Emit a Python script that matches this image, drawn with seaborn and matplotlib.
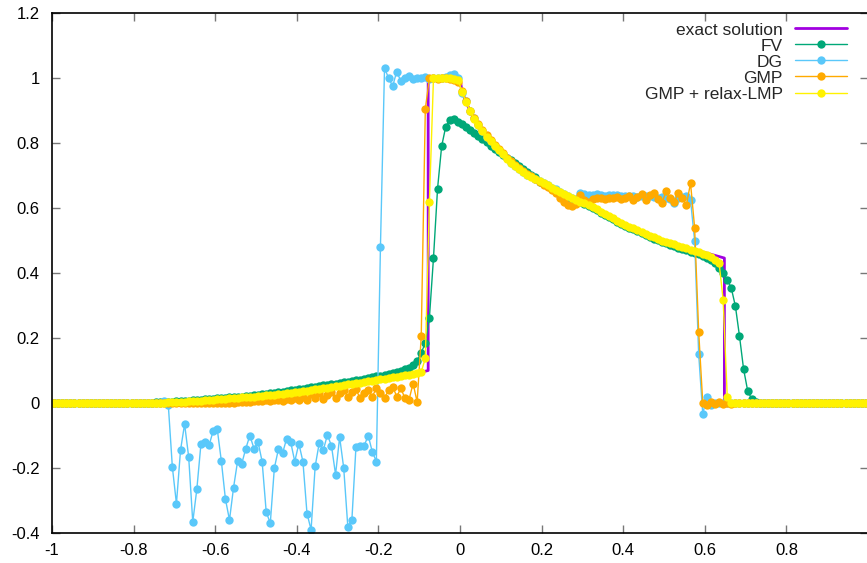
import numpy as np
import seaborn as sns
import matplotlib.pyplot as plt
from matplotlib.ticker import FormatStrFormatter

# cell centres of the 200-cell mesh on [-1, 1]
x = np.round(np.linspace(-0.995, 0.995, 200), 3)

# exact solution (piecewise)
exact_x = [-1.0, -0.75, -0.7, -0.6, -0.5, -0.4, -0.3, -0.2, -0.1, -0.078, -0.078,
           0.0, 0.005, 0.015, 0.025, 0.035, 0.05, 0.075, 0.1, 0.15, 0.2, 0.25,
           0.3, 0.35, 0.4, 0.45, 0.5, 0.55, 0.58, 0.648, 0.648, 1.0]
exact_y = [0.0, 0.0, 0.002, 0.01, 0.02, 0.035, 0.052, 0.072, 0.093, 0.1, 1.0,
           1.0, 0.957, 0.926, 0.897, 0.874, 0.846, 0.805, 0.771, 0.713, 0.68, 0.646,
           0.617, 0.585, 0.551, 0.523, 0.498, 0.48, 0.47, 0.446, 0.0, 0.0]

fv = [0.0] * 22 + [
    0.000, 0.001, 0.001, 0.002, 0.002, 0.003, 0.003, 0.004, 0.005, 0.006,
    0.006, 0.007, 0.008, 0.009, 0.010, 0.011, 0.012, 0.013, 0.014, 0.015,
    0.016, 0.017, 0.018, 0.019, 0.020, 0.021, 0.022, 0.024, 0.026, 0.027,
    0.029, 0.030, 0.032, 0.033, 0.035, 0.037, 0.039, 0.041, 0.042, 0.044,
    0.046, 0.048, 0.050, 0.052, 0.054, 0.056, 0.058, 0.060, 0.062, 0.064,
    0.066, 0.068, 0.070, 0.072, 0.074, 0.077, 0.079, 0.082, 0.084, 0.087,
    0.090, 0.093, 0.096, 0.100, 0.104, 0.109, 0.117, 0.130, 0.155, 0.184,
    0.262, 0.446, 0.660, 0.790, 0.850, 0.872, 0.874, 0.866, 0.857, 0.848,
    0.840, 0.831, 0.822, 0.812, 0.802, 0.792, 0.782, 0.772, 0.763, 0.755,
    0.747, 0.738, 0.729, 0.720, 0.712, 0.703, 0.695,
] + [
    0.680, 0.674, 0.667, 0.660, 0.653, 0.646, 0.640, 0.634, 0.628, 0.622,
    0.617, 0.612, 0.606, 0.599, 0.593, 0.586, 0.579, 0.572, 0.565, 0.558,
    0.551, 0.545, 0.539, 0.534, 0.528, 0.522, 0.516, 0.511, 0.506, 0.501,
    0.496, 0.491, 0.487, 0.483, 0.478, 0.474, 0.470, 0.466, 0.462, 0.458,
    0.453, 0.447, 0.440, 0.430, 0.416,
] + [0.401, 0.380, 0.353, 0.298, 0.206, 0.105, 0.038, 0.012, 0.004] + [0.0] * 27

dg = [0.0] * 27 + [
    0.005, -0.005, -0.197, -0.310, -0.145, -0.065, -0.166, -0.366, -0.265, -0.127,
    -0.120, -0.130, -0.086, -0.080, -0.178, -0.295, -0.360, -0.260, -0.178, -0.187,
    -0.140, -0.100, -0.140, -0.120, -0.180, -0.335, -0.370, -0.200, -0.142, -0.155,
    -0.110, -0.120, -0.180, -0.125, -0.180, -0.340, -0.390, -0.195, -0.123, -0.145,
    -0.098, -0.132, -0.220, -0.105, -0.200, -0.380, -0.360, -0.135, -0.132, -0.132,
    -0.100, -0.150, -0.180,
] + [
    0.480, 1.030, 1.000, 0.975, 1.020, 0.990, 1.000, 1.005, 0.998, 1.000,
    1.000, 1.002, 0.998, 1.000, 1.000, 1.000, 1.003, 1.008, 1.012, 1.000,
] + [
    0.955, 0.928, 0.897, 0.876, 0.855, 0.837, 0.820, 0.806, 0.791, 0.779,
    0.765, 0.753, 0.740, 0.730, 0.719, 0.711, 0.703, 0.697, 0.689, 0.684,
    0.677, 0.671, 0.663, 0.657, 0.649, 0.644, 0.637, 0.632, 0.628,
] + [
    0.646, 0.642, 0.641, 0.640, 0.642, 0.640, 0.637, 0.639, 0.641, 0.640,
    0.638, 0.637, 0.638, 0.636, 0.634, 0.636, 0.637, 0.636, 0.634, 0.632,
    0.633, 0.630, 0.628, 0.615, 0.630, 0.634, 0.636, 0.625,
] + [0.500, 0.150, -0.034, 0.020, -0.005] + [0.0] * 38

gmp = [0.0] * 45 + [
    0.002, 0.003, 0.004, 0.003, 0.005, 0.006, 0.005, 0.008, 0.007, 0.010,
] + [
    0.010, 0.005, 0.012, 0.008, 0.015, 0.010, 0.020, 0.010, 0.028, 0.015,
    0.030, 0.012, 0.025, 0.035, 0.015, 0.030, 0.040, 0.020, 0.035, 0.042,
    0.015, 0.030, 0.040, 0.020, 0.045, 0.030, 0.015, 0.040, 0.050, 0.020,
    0.045, 0.015, 0.010, 0.060, 0.003, 0.206, 0.905,
] + [1.000, 1.000, 0.998, 1.000, 1.000, 0.997, 0.993, 0.988] + [
    0.960, 0.930, 0.900, 0.878, 0.858, 0.840, 0.824, 0.808, 0.795, 0.781,
    0.768, 0.755, 0.744, 0.733, 0.722, 0.713, 0.705, 0.697, 0.688, 0.680,
    0.672, 0.664, 0.655, 0.645, 0.630, 0.618, 0.610, 0.605, 0.612,
] + [
    0.640, 0.625, 0.620, 0.628, 0.630, 0.632, 0.628, 0.630, 0.632, 0.634,
    0.628, 0.630, 0.637, 0.625, 0.635, 0.643, 0.625, 0.640, 0.646, 0.628,
    0.615, 0.652, 0.630, 0.618, 0.646, 0.630, 0.609, 0.677, 0.540, 0.220,
] + [
    0.000, -0.005, 0.003, -0.004, 0.002, -0.003, 0.001, -0.002, 0.001, 0.000,
    0.001, 0.000,
] + [0.0] * 29

gmp_lmp = [0.0] * 25 + [
    0.000, 0.001, 0.001, 0.002, 0.002, 0.003, 0.003, 0.004, 0.005, 0.005,
    0.006, 0.007, 0.008, 0.009, 0.010, 0.011, 0.012, 0.013, 0.014, 0.015,
    0.016, 0.017, 0.018, 0.019, 0.020, 0.021, 0.022, 0.024, 0.025, 0.026,
    0.028, 0.029, 0.031, 0.032, 0.034, 0.035, 0.037, 0.038, 0.040, 0.042,
    0.043, 0.045, 0.047, 0.049, 0.051, 0.053, 0.055, 0.057, 0.059, 0.061,
    0.063, 0.065, 0.067, 0.069, 0.071, 0.073, 0.075, 0.077, 0.079, 0.081,
    0.083, 0.085, 0.087, 0.090, 0.092, 0.096, 0.137,
] + [0.620, 1.000, 1.000, 1.000, 1.000, 1.000, 0.998, 0.995] + [
    0.957, 0.926, 0.897, 0.874, 0.855, 0.836, 0.820, 0.805, 0.791, 0.778,
    0.765, 0.752, 0.740, 0.729, 0.719, 0.710, 0.703, 0.696, 0.689, 0.683,
    0.677, 0.670, 0.663, 0.656, 0.649, 0.643, 0.637, 0.631, 0.625, 0.620,
    0.615, 0.609, 0.602, 0.596, 0.589, 0.582, 0.575, 0.568, 0.561, 0.554,
    0.548, 0.542, 0.537, 0.531, 0.526, 0.520, 0.515, 0.510, 0.505, 0.500,
    0.496, 0.492, 0.488, 0.484, 0.480, 0.476, 0.472, 0.468, 0.464, 0.460,
    0.455, 0.448, 0.440, 0.432,
] + [0.317, 0.020] + [0.0] * 34

x_ticks = [-1, -0.8, -0.6, -0.4, -0.2, 0, 0.2, 0.4, 0.6, 0.8]
y_ticks = [-0.4, -0.2, 0, 0.2, 0.4, 0.6, 0.8, 1, 1.2]

sns.set_theme(style="ticks")
plt.rcParams['font.family'] = ['Liberation Sans', 'DejaVu Sans']

fig = plt.figure(figsize=(8.67, 5.63), dpi=100)
ax = fig.add_axes([52 / 867, 30 / 563, 816 / 867, 520 / 563])

mk = dict(marker='o', markersize=6, markeredgewidth=0, linewidth=1.0,
          estimator=None, sort=False, ax=ax)

sns.lineplot(x=exact_x, y=exact_y, color='#a100e0', linewidth=2.0,
             estimator=None, sort=False, ax=ax, label='exact solution')
sns.lineplot(x=x, y=fv, color='#00a878', label='FV', **mk)
sns.lineplot(x=x, y=dg, color='#5ac8fa', label='DG', **mk)
sns.lineplot(x=x, y=gmp, color='#ffaa00', label='GMP', **mk)
sns.lineplot(x=x, y=gmp_lmp, color='#fff200', label='GMP + relax-LMP', **mk)

ax.set_xlim(-1, 1)
ax.set_ylim(-0.4, 1.2)
ax.set_xticks(x_ticks)
ax.set_yticks(y_ticks)
ax.xaxis.set_major_formatter(FormatStrFormatter('%g'))
ax.yaxis.set_major_formatter(FormatStrFormatter('%g'))
ax.tick_params(direction='in', length=6, width=1, color='#777777',
               top=True, right=True, labelsize=12, labelcolor='black')
ax.tick_params(axis='y', pad=9)
ax.tick_params(axis='x', pad=7)
for s in ax.spines.values():
    s.set_color('black')
    s.set_linewidth(1.2)
ax.set_xlabel('')
ax.set_ylabel('')

ax.legend(loc='upper right', bbox_to_anchor=(0.974, 0.982), frameon=False,
          markerfirst=False, fontsize=12.5, handlelength=3.0, handletextpad=0.7,
          labelspacing=0.05, borderpad=0, borderaxespad=0)

fig.savefig('out.png', dpi=100)
